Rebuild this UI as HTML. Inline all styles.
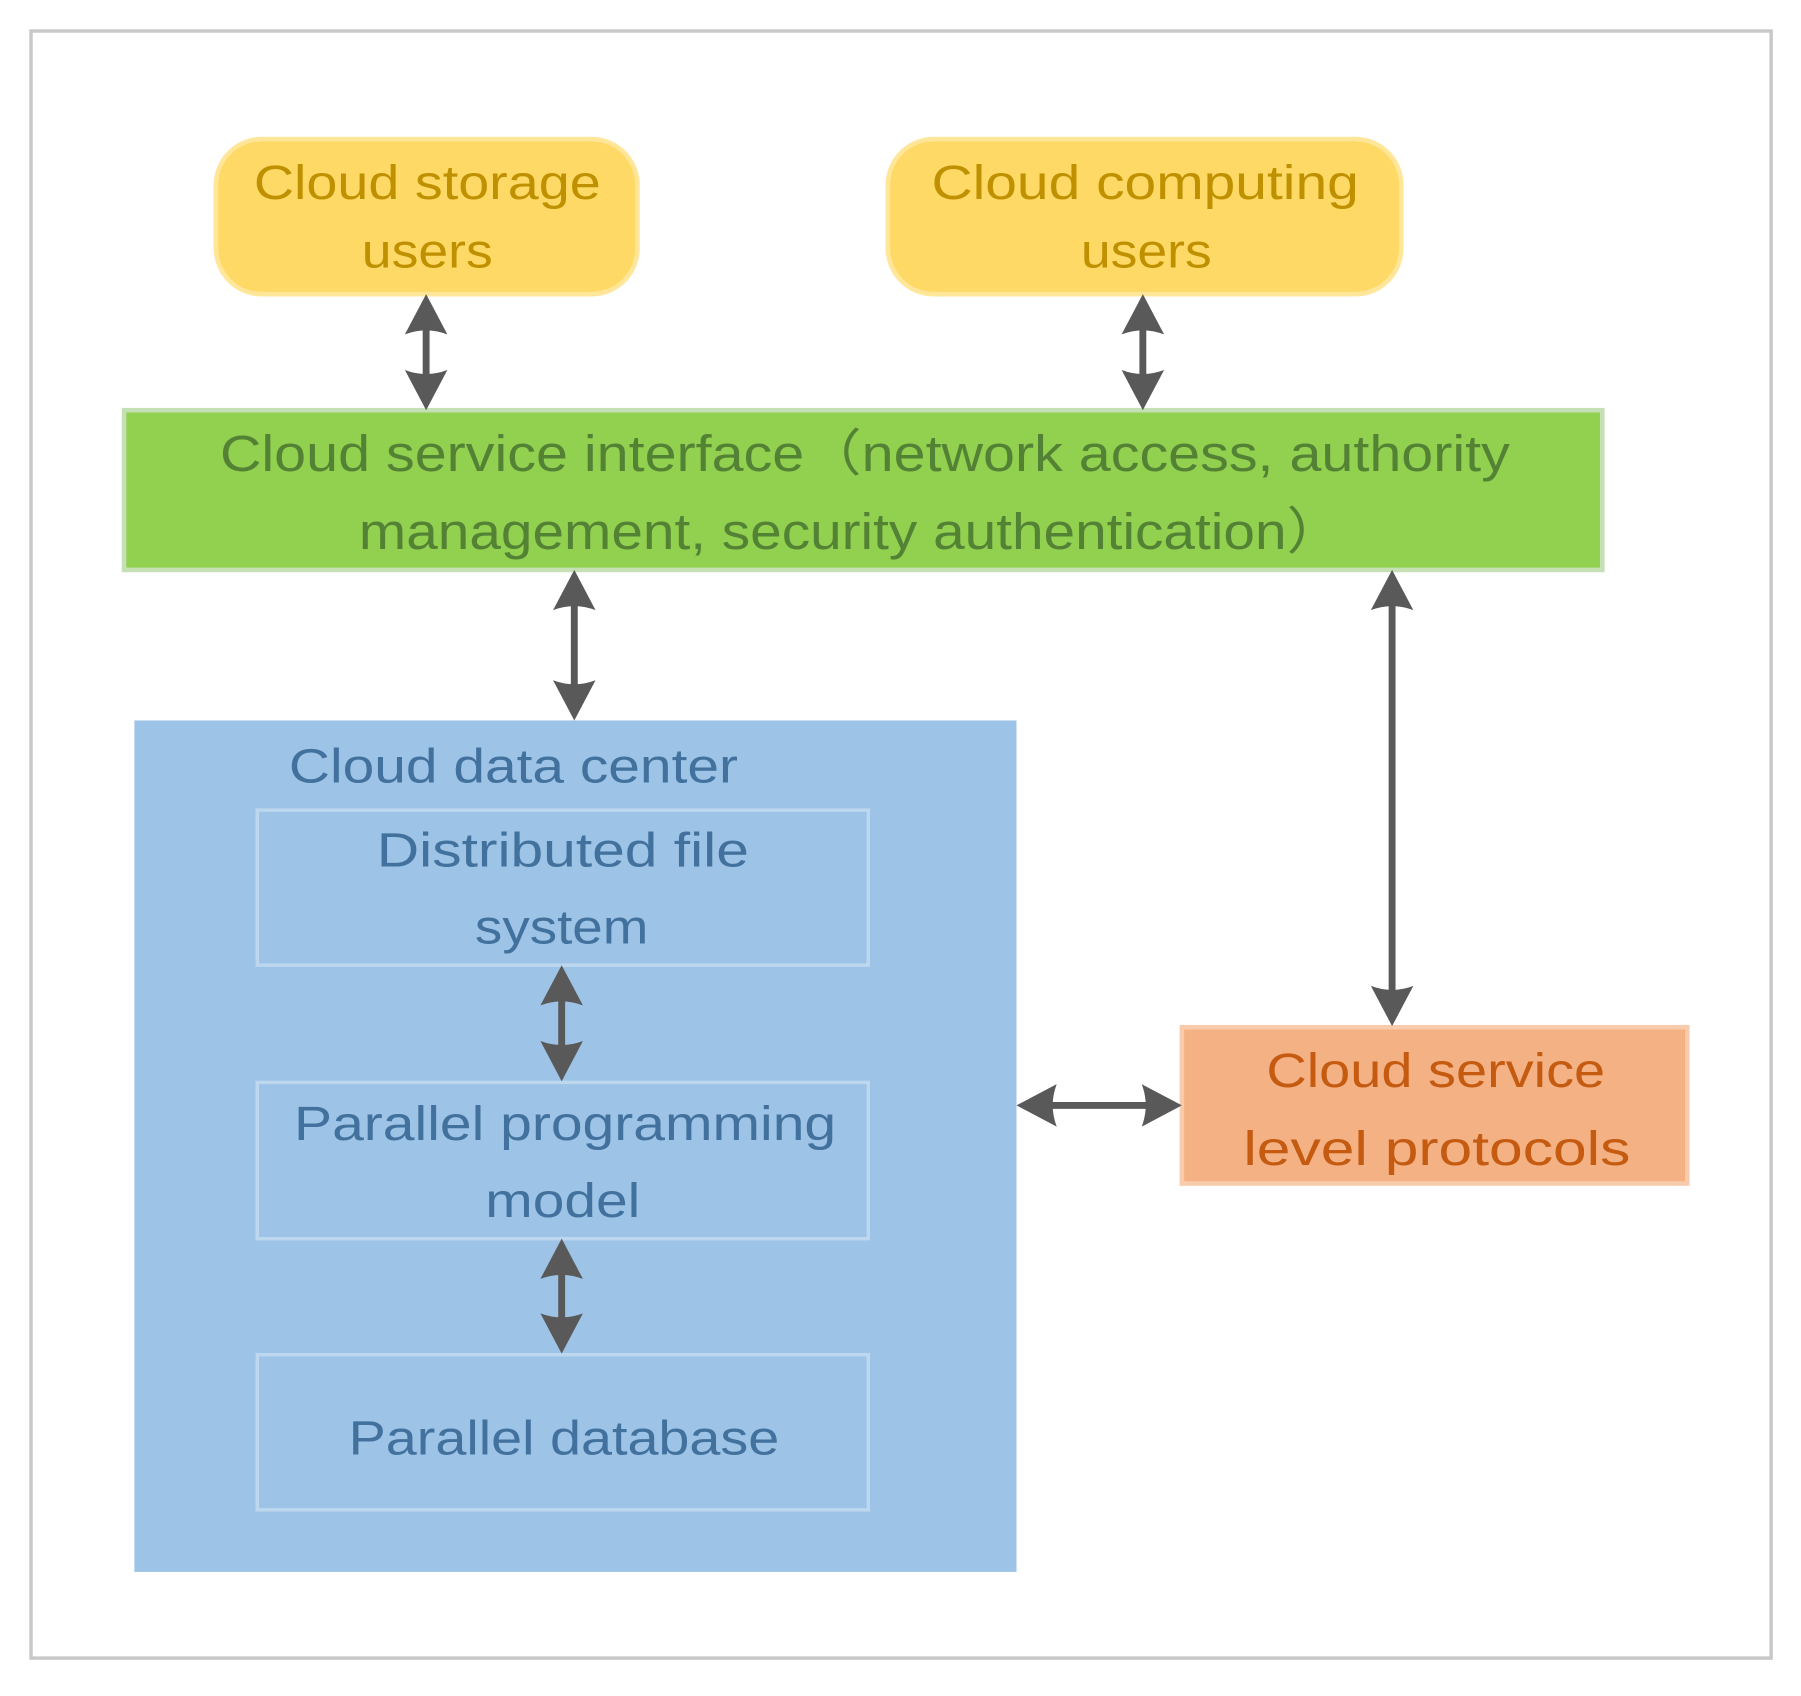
<!DOCTYPE html>
<html><head><meta charset="utf-8"><style>html,body{margin:0;padding:0;background:#fff}svg{display:block}</style></head>
<body>
<svg width="1801" height="1696" viewBox="0 0 1568 1476" preserveAspectRatio="none" xmlns="http://www.w3.org/2000/svg" font-family="'Liberation Sans', sans-serif" font-size="42">
<defs>
<path id="ah" d="M0,0 L18.5,35 Q0,28 -18.5,35 Z" fill="#595959"/>
</defs>
<rect x="0" y="0" width="1568" height="1476" fill="#fff"/>
<rect x="27" y="27" width="1515" height="1416" fill="none" stroke="#c8c8c8" stroke-width="3"/>

<rect x="188" y="121" width="367" height="135" rx="40" fill="#ffd966" stroke="#ffe699" stroke-width="4"/>
<text x="372" y="173" text-anchor="middle" fill="#bf9000" textLength="302" lengthAdjust="spacingAndGlyphs">Cloud storage</text>
<text x="372" y="233" text-anchor="middle" fill="#bf9000" textLength="114" lengthAdjust="spacingAndGlyphs">users</text>

<rect x="773" y="121" width="447" height="135" rx="40" fill="#ffd966" stroke="#ffe699" stroke-width="4"/>
<text x="997" y="173" text-anchor="middle" fill="#bf9000" textLength="372" lengthAdjust="spacingAndGlyphs">Cloud computing</text>
<text x="998" y="233" text-anchor="middle" fill="#bf9000" textLength="114" lengthAdjust="spacingAndGlyphs">users</text>

<rect x="108" y="357" width="1287" height="139" fill="#92d050" stroke="#c5e0b4" stroke-width="4"/>
<text x="753" y="410" text-anchor="middle" fill="#548235" font-size="44" textLength="1123" lengthAdjust="spacingAndGlyphs">Cloud service interface（network access, authority</text>
<text x="741" y="478" text-anchor="middle" fill="#548235" font-size="44" textLength="857" lengthAdjust="spacingAndGlyphs">management, security authentication）</text>

<rect x="117" y="627" width="768" height="741" fill="#9dc3e6"/>
<text x="447" y="681" text-anchor="middle" fill="#41719c" textLength="391" lengthAdjust="spacingAndGlyphs">Cloud data center</text>
<rect x="224" y="705" width="532" height="135" fill="none" stroke="#bdd7ee" stroke-width="3"/>
<text x="490" y="754" text-anchor="middle" fill="#41719c" textLength="324" lengthAdjust="spacingAndGlyphs">Distributed file</text>
<text x="489" y="821" text-anchor="middle" fill="#41719c" textLength="151" lengthAdjust="spacingAndGlyphs">system</text>
<rect x="224" y="942" width="532" height="136" fill="none" stroke="#bdd7ee" stroke-width="3"/>
<text x="492" y="992" text-anchor="middle" fill="#41719c" textLength="472" lengthAdjust="spacingAndGlyphs">Parallel programming</text>
<text x="490" y="1059" text-anchor="middle" fill="#41719c" textLength="135" lengthAdjust="spacingAndGlyphs">model</text>
<rect x="224" y="1179" width="532" height="135" fill="none" stroke="#bdd7ee" stroke-width="3"/>
<text x="491" y="1266" text-anchor="middle" fill="#41719c" textLength="375" lengthAdjust="spacingAndGlyphs">Parallel database</text>

<rect x="1029" y="894" width="440" height="136" fill="#f4b183" stroke="#f8cbad" stroke-width="4"/>
<text x="1250" y="946" text-anchor="middle" fill="#c55a11" textLength="295" lengthAdjust="spacingAndGlyphs">Cloud service</text>
<text x="1251" y="1014" text-anchor="middle" fill="#c55a11" textLength="337" lengthAdjust="spacingAndGlyphs">level protocols</text>

<g stroke="#595959" stroke-width="6">
<line x1="371" y1="285" x2="371" y2="328"/>
<line x1="995" y1="285" x2="995" y2="328"/>
<line x1="500" y1="525" x2="500" y2="598"/>
<line x1="1212" y1="525" x2="1212" y2="864"/>
<line x1="489" y1="869" x2="489" y2="912"/>
<line x1="489" y1="1107" x2="489" y2="1149"/>
<line x1="914" y1="962" x2="1000" y2="962"/>
</g>
<use href="#ah" transform="translate(371,256)"/>
<use href="#ah" transform="translate(371,357) rotate(180)"/>
<use href="#ah" transform="translate(995,256)"/>
<use href="#ah" transform="translate(995,357) rotate(180)"/>
<use href="#ah" transform="translate(500,496)"/>
<use href="#ah" transform="translate(500,627) rotate(180)"/>
<use href="#ah" transform="translate(1212,496)"/>
<use href="#ah" transform="translate(1212,893) rotate(180)"/>
<use href="#ah" transform="translate(489,840)"/>
<use href="#ah" transform="translate(489,941) rotate(180)"/>
<use href="#ah" transform="translate(489,1078)"/>
<use href="#ah" transform="translate(489,1178) rotate(180)"/>
<use href="#ah" transform="translate(885,962) rotate(-90)"/>
<use href="#ah" transform="translate(1029,962) rotate(90)"/>
</svg>
</body></html>
